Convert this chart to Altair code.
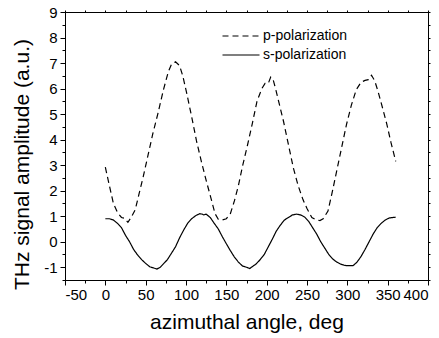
import altair as alt
import pandas as pd

# ---- data ----
series_names = ["p-polarization", "s-polarization"]

p_angle = [0, 5, 10, 15, 20, 24, 28, 32, 37, 42, 47, 53, 59, 65, 72, 78, 82, 87, 92, 96,
           101, 107, 113, 119, 125, 131, 136, 140, 145, 150, 155, 160, 165, 170, 176, 182,
           188, 194, 198, 202, 205, 208, 211, 216, 221, 227, 233, 239, 245, 250, 256, 262,
           266, 270, 276, 281, 287, 293, 299, 305, 311, 317, 322, 326, 330, 334, 338, 344,
           349, 354, 360]
p_amp = [2.92, 2.2, 1.5, 1.15, 0.95, 0.92, 0.76, 0.95, 1.25, 1.9, 2.55, 3.4, 4.25, 5.0,
         5.95, 6.65, 6.95, 7.05, 6.9, 6.5, 5.8, 4.9, 3.95, 3.15, 2.4, 1.7, 1.1, 0.88, 0.85,
         0.9, 1.1, 1.6, 2.2, 2.95, 3.75, 4.6, 5.5, 6.0, 6.2, 6.2, 6.45, 6.35, 6.0, 5.35,
         4.7, 3.8, 2.9, 2.2, 1.65, 1.3, 0.95, 0.85, 0.83, 0.9, 1.2, 1.9, 2.8, 3.7, 4.6,
         5.35, 5.95, 6.25, 6.32, 6.35, 6.52, 6.3, 5.9, 5.2, 4.6, 3.9, 3.15]

s_angle = [0, 5, 10, 15, 20, 25, 30, 35, 40, 45, 50, 55, 60, 64, 68, 72, 77, 82, 87, 92,
           97, 102, 107, 112, 117, 120, 122, 125, 130, 135, 140, 145, 150, 155, 160, 165,
           170, 175, 179, 182, 187, 192, 197, 202, 207, 212, 217, 222, 227, 232, 237, 242,
           247, 252, 257, 262, 267, 272, 277, 282, 287, 292, 297, 302, 307, 312, 317, 322,
           327, 332, 337, 342, 347, 352, 357, 360]
s_amp = [0.9, 0.9, 0.85, 0.72, 0.55, 0.25, 0.0, -0.3, -0.52, -0.7, -0.85, -0.98, -1.03,
         -1.07, -1.0, -0.87, -0.7, -0.45, -0.2, 0.15, 0.45, 0.72, 0.9, 1.02, 1.1, 1.08,
         1.05, 1.08, 0.95, 0.72, 0.5, 0.2, -0.08, -0.35, -0.6, -0.8, -0.95, -1.0, -1.05,
         -0.98, -0.87, -0.7, -0.5, -0.2, 0.1, 0.42, 0.65, 0.85, 0.95, 1.05, 1.08, 1.05,
         0.97, 0.8, 0.55, 0.3, 0.0, -0.25, -0.5, -0.68, -0.8, -0.88, -0.93, -0.94, -0.94,
         -0.8, -0.58, -0.3, 0.0, 0.3, 0.55, 0.72, 0.85, 0.93, 0.95, 0.96]

x_ticks = list(range(-50, 401, 25))
y_ticks = [v / 2 for v in range(-3, 19)]

df = pd.concat([
    pd.DataFrame({"angle": p_angle, "amp": p_amp, "series": series_names[0]}),
    pd.DataFrame({"angle": s_angle, "amp": s_amp, "series": series_names[1]}),
])

FONT = "Liberation Sans"
x_scale = alt.Scale(domain=[-50, 400], nice=False, zero=False)
y_scale = alt.Scale(domain=[-1.5, 9], nice=False, zero=False)

x_tick_size = {"condition": {"test": "datum.value % 50 === 0", "value": 5}, "value": 3}
y_tick_size = {"condition": {"test": "datum.value % 1 === 0", "value": 5}, "value": 3}

common = dict(grid=False, domainColor="black", tickColor="black", labelColor="black",
              titleColor="black", labelFont=FONT, titleFont=FONT, labelFontSize=15,
              titleFontSize=21, titleFontWeight="normal", domainWidth=1, tickWidth=1,
              labelOverlap=False)

x_axis = alt.Axis(values=x_ticks, tickSize=x_tick_size,
                  labelExpr="datum.value % 50 === 0 ? '' + datum.value : ''",
                  labelPadding=2, titleX=181.5, titleY=48, titleBaseline="alphabetic",
                  titleAlign="center", **common)
y_axis = alt.Axis(values=y_ticks, tickSize=y_tick_size,
                  labelExpr="datum.value % 1 === 0 ? '' + datum.value : ''",
                  labelPadding=3, titleX=-37, titleY=152, titleBaseline="alphabetic",
                  titleAlign="center", titleAngle=270, **common)

lines = alt.Chart(df).mark_line(color="black", strokeWidth=1.2).encode(
    x=alt.X("angle:Q", scale=x_scale, axis=x_axis, title="azimuthal angle, deg"),
    y=alt.Y("amp:Q", scale=y_scale, axis=y_axis, title="THz signal amplitude (a.u.)"),
    strokeDash=alt.StrokeDash(
        "series:N",
        scale=alt.Scale(domain=series_names, range=[[6, 4], [1, 0]]),
        legend=alt.Legend(orient="none", legendX=169, legendY=17, title=None,
                          symbolType="M-4,0H4", symbolSize=85.6, symbolStrokeWidth=1.2,
                          symbolStrokeColor="black", labelFont=FONT, labelFontSize=14,
                          labelColor="black", labelOffset=15, rowPadding=5, padding=0),
    ),
)

frame = alt.Chart(df).mark_line(opacity=0).encode(
    x=alt.X("angle:Q", scale=x_scale, title=None,
            axis=alt.Axis(orient="top", values=x_ticks, labels=False, tickSize=2,
                          grid=False, domainColor="black", tickColor="black")),
    y=alt.Y("amp:Q", scale=y_scale, title=None,
            axis=alt.Axis(orient="right", values=y_ticks, labels=False, tickSize=2,
                          grid=False, domainColor="black", tickColor="black")),
    detail="series:N",
)

chart = alt.layer(lines, frame).resolve_axis(x="independent", y="independent").properties(
    width=363, height=268,
    autosize=alt.AutoSizeParams(type="none"),
    padding={"left": 65, "top": 12, "right": 11, "bottom": 58},
    background="white",
).configure_view(stroke="black", strokeWidth=1)

chart.save("out.html", embed_options={"renderer": "svg", "actions": False})
